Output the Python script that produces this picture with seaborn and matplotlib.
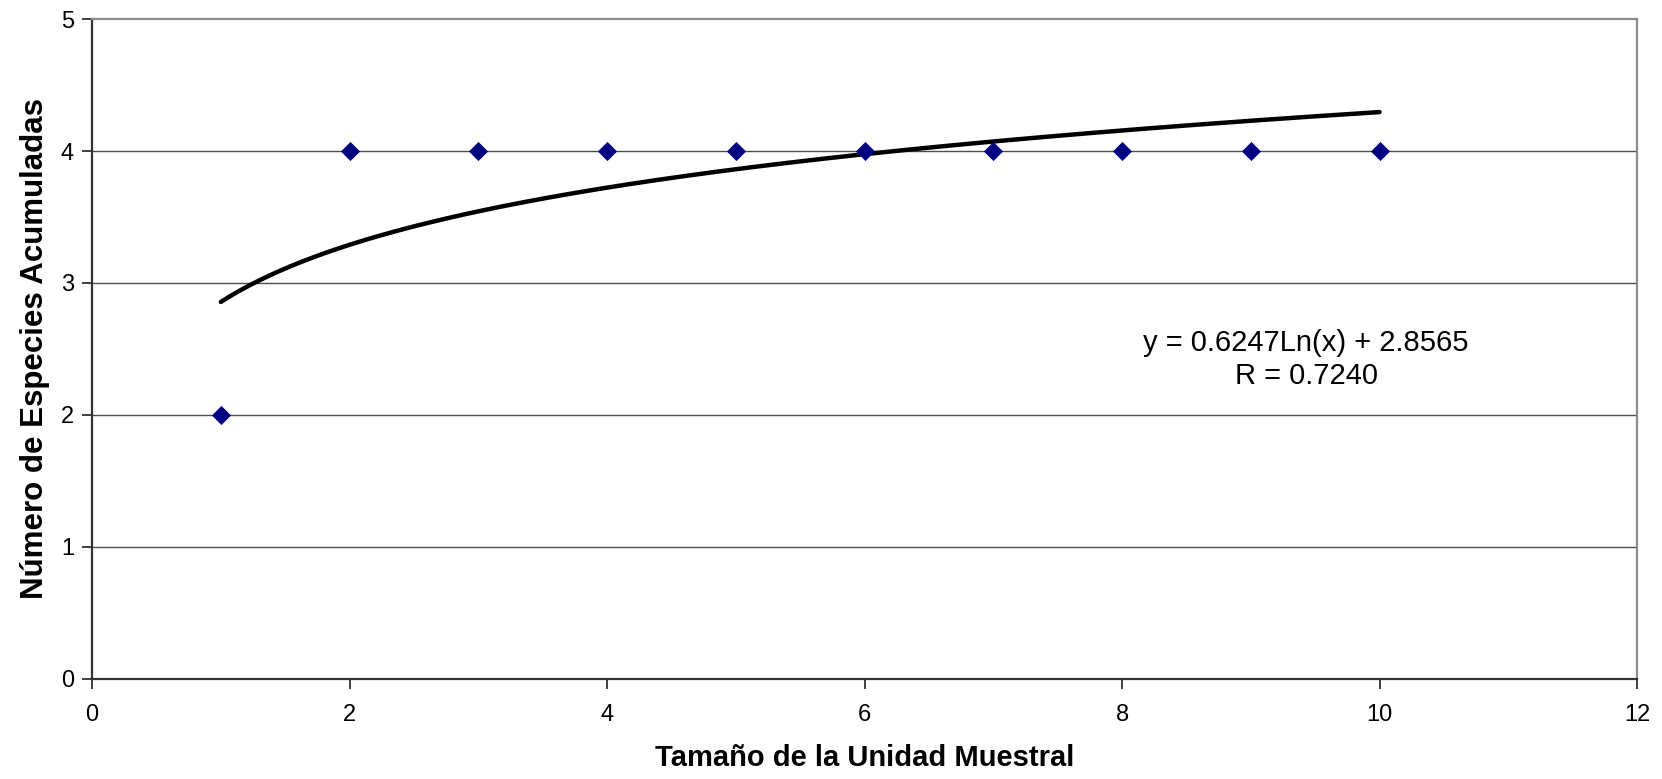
import numpy as np
import pandas as pd
import matplotlib
matplotlib.use("Agg")
import matplotlib.pyplot as plt
import seaborn as sns

# Observed cumulative species per sampling-unit size
tamano = [1, 2, 3, 4, 5, 6, 7, 8, 9, 10]
especies = [2, 4, 4, 4, 4, 4, 4, 4, 4, 4]

# Logarithmic trend coefficients: y = a*ln(x) + b
coef_a = 0.6247
coef_b = 2.8565
coef_r = 0.7240

x_ticks = [0, 2, 4, 6, 8, 10, 12]
y_ticks = [0, 1, 2, 3, 4, 5]

sns.set_theme(style="white")
plt.rcParams["font.family"] = ["Liberation Sans", "DejaVu Sans"]
plt.rcParams["text.color"] = "black"
plt.rcParams["axes.labelcolor"] = "black"

fig = plt.figure(figsize=(16.62, 7.79), dpi=100)
ax = fig.add_axes([0.0554, 0.1284, 0.9296, 0.8472])

obs = pd.DataFrame({"x": tamano, "y": especies})
xs = np.linspace(min(tamano), max(tamano), 300)
trend = pd.DataFrame({"x": xs, "y": coef_a * np.log(xs) + coef_b})

for yv in y_ticks[1:-1]:
    ax.axhline(yv, color="#4d4d4d", lw=1.0, zorder=1)

sns.lineplot(data=trend, x="x", y="y", ax=ax, color="black", lw=3.2,
             solid_capstyle="round", zorder=3)
sns.scatterplot(data=obs, x="x", y="y", ax=ax, marker="D", s=95,
                color="#000080", edgecolor="#000080", linewidth=0, zorder=4)

ax.set_xlim(0, 12)
ax.set_ylim(0, 5)
ax.set_xticks(x_ticks)
ax.set_yticks(y_ticks)
ax.tick_params(axis="both", direction="out", length=7, width=1.3,
               colors="#333333", labelcolor="black", labelsize=17,
               bottom=True, left=True, pad=6)
ax.tick_params(axis="x", pad=11)

for side in ["left", "bottom"]:
    ax.spines[side].set_color("#333333")
    ax.spines[side].set_linewidth(1.6)
for side in ["top", "right"]:
    ax.spines[side].set_color("#8c8c8c")
    ax.spines[side].set_linewidth(1.6)

ax.set_xlabel("Tamaño de la Unidad Muestral", fontsize=21, fontweight="bold",
              labelpad=13)
ax.set_ylabel("Número de Especies Acumuladas", fontsize=22.5, fontweight="bold",
              labelpad=8)

ax.text(9.43, 2.42, f"y = {coef_a:.4f}Ln(x) + {coef_b:.4f}\nR = {coef_r:.4f}",
        ha="center", va="center", fontsize=21, linespacing=1.2)

fig.savefig("out.png", dpi=100)
